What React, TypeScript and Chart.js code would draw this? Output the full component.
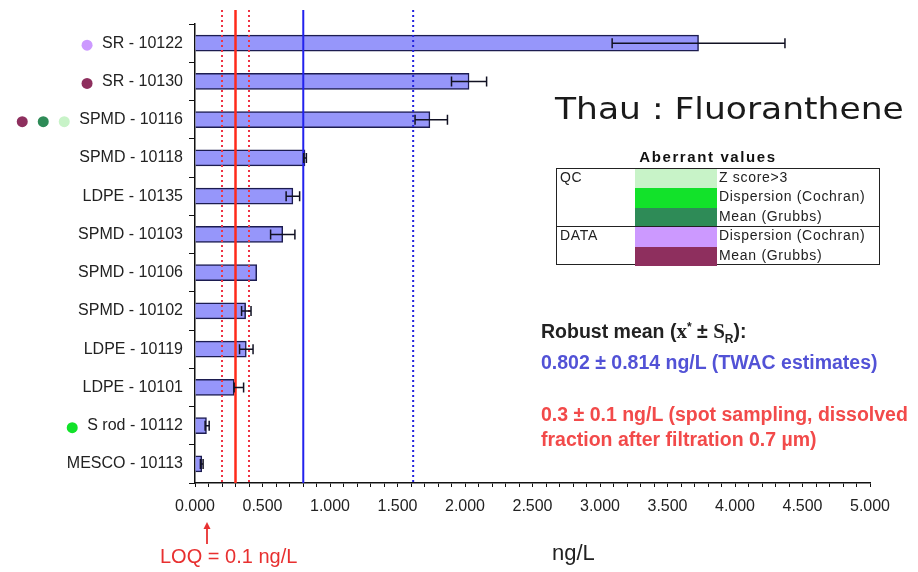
import React, { useEffect, useRef } from "react";
import { Chart, registerables } from "chart.js";

Chart.register(...registerables);

const categories = [
  "SR - 10122",
  "SR - 10130",
  "SPMD - 10116",
  "SPMD - 10118",
  "LDPE - 10135",
  "SPMD - 10103",
  "SPMD - 10106",
  "SPMD - 10102",
  "LDPE - 10119",
  "LDPE - 10101",
  "S rod - 10112",
  "MESCO - 10113",
];
const values = [3.73, 2.03, 1.74, 0.815, 0.725, 0.65, 0.457, 0.375, 0.38, 0.29, 0.085, 0.05];
const errMinus = [0.64, 0.13, 0.11, 0.01, 0.05, 0.09, null, 0.03, 0.05, 0.0, 0.01, 0.01];
const errPlus = [0.64, 0.13, 0.13, 0.01, 0.05, 0.09, null, 0.04, 0.05, 0.07, 0.02, 0.01];
// aberrant-value flags per category (nearest the label first)
const flags: string[][] = [
  ["dataDisp"],
  ["dataMean"],
  ["qcZ", "qcMean", "dataMean"],
  [],
  [],
  [],
  [],
  [],
  [],
  [],
  ["qcDisp"],
  [],
];
const spotMean = 0.3;
const spotSd = 0.1;
const robustMean = 0.802;
const robustSd = 0.814;
const xTickLabels = ["0.000", "0.500", "1.000", "1.500", "2.000", "2.500", "3.000", "3.500", "4.000", "4.500", "5.000"];

const flagColors: Record<string, string> = {
  qcZ: "#c8f3c8",
  qcDisp: "#12e22a",
  qcMean: "#2e8b57",
  dataDisp: "#cc99ff",
  dataMean: "#8e2f5e",
};

const labelFont = "16px 'Liberation Sans', Arial, sans-serif";

const overlayPlugin = {
  id: "overlay",
  afterDatasetsDraw(chart: any) {
    const ctx = chart.ctx;
    const xs = chart.scales.x;
    const ys = chart.scales.y;
    const area = chart.chartArea;
    const vline = (v: number, color: string, width: number, dash: number[]) => {
      const x = xs.getPixelForValue(v);
      ctx.save();
      ctx.strokeStyle = color;
      ctx.lineWidth = width;
      ctx.setLineDash(dash);
      ctx.beginPath();
      ctx.moveTo(x, 10);
      ctx.lineTo(x, area.bottom);
      ctx.stroke();
      ctx.restore();
    };
    vline(spotMean - spotSd, "#ee3344", 2, [2, 3]);
    vline(spotMean + spotSd, "#ee3344", 2, [2, 3]);
    vline(spotMean, "#ff2a1a", 2.5, []);
    vline(robustMean, "#2222ee", 2, []);
    vline(robustMean + robustSd, "#2222dd", 2, [2, 3]);

    // error bars
    ctx.save();
    ctx.strokeStyle = "#111122";
    ctx.lineWidth = 1.5;
    values.forEach((v, i) => {
      const m = errMinus[i];
      const p = errPlus[i];
      if (m === null || p === null) return;
      const y = ys.getPixelForValue(i);
      const x1 = xs.getPixelForValue(v - m);
      const x2 = xs.getPixelForValue(v + p);
      ctx.beginPath();
      ctx.moveTo(x1, y);
      ctx.lineTo(x2, y);
      ctx.moveTo(x1, y - 5);
      ctx.lineTo(x1, y + 5);
      ctx.moveTo(x2, y - 5);
      ctx.lineTo(x2, y + 5);
      ctx.stroke();
    });
    ctx.restore();

    // flag dots left of labels
    ctx.save();
    ctx.font = labelFont;
    flags.forEach((f, i) => {
      if (!f.length) return;
      const y = ys.getPixelForValue(i) + 2;
      const w = ctx.measureText(categories[i]).width;
      const labelLeft = area.left - 12 - w;
      f.forEach((k, j) => {
        const cx = labelLeft - 15 - j * 21;
        ctx.fillStyle = flagColors[k];
        ctx.beginPath();
        ctx.arc(cx, y, 5.5, 0, Math.PI * 2);
        ctx.fill();
      });
    });
    ctx.restore();
  },
};

export default function App() {
  const ref = useRef<HTMLCanvasElement | null>(null);

  useEffect(() => {
    if (!ref.current) return;
    const chart = new Chart(ref.current, {
      type: "bar",
      data: {
        labels: categories,
        datasets: [
          {
            data: values,
            backgroundColor: "#9696fa",
            borderColor: "#1c1c50",
            borderWidth: 1.5,
            borderSkipped: "left",
            barThickness: 16,
          },
        ],
      },
      options: {
        indexAxis: "y",
        responsive: false,
        animation: false,
        devicePixelRatio: 1,
        layout: { padding: { left: 0, right: 48, top: 24, bottom: 0 } },
        plugins: {
          legend: { display: false },
          tooltip: { enabled: false },
        },
        scales: {
          x: {
            type: "linear",
            min: 0,
            max: 5,
            afterFit: (s: any) => {
              s.height = 89;
            },
            afterBuildTicks: (s: any) => {
              const t = [];
              for (let i = 0; i <= 50; i++) t.push({ value: i / 10 });
              s.ticks = t;
            },
            ticks: {
              autoSkip: false,
              maxRotation: 0,
              padding: 10,
              color: "#222",
              font: { family: "'Liberation Sans', Arial, sans-serif", size: 16 },
              callback: (v: any) => {
                const n = Math.round(Number(v) * 10);
                if (n % 5 !== 0) return "";
                return xTickLabels[n / 5];
              },
            },
            grid: {
              drawOnChartArea: false,
              drawTicks: true,
              tickLength: 4,
              color: "#111",
              lineWidth: 1,
            },
            border: { color: "#111", width: 1.5 },
          },
          y: {
            afterFit: (s: any) => {
              s.width = 195;
            },
            ticks: {
              padding: 6,
              color: "#222",
              font: { family: "'Liberation Sans', Arial, sans-serif", size: 16 },
            },
            grid: {
              offset: true,
              drawOnChartArea: false,
              drawTicks: true,
              tickLength: 6,
              color: "#111",
              lineWidth: 1,
            },
            border: { color: "#111", width: 1.5 },
          },
        },
      },
      plugins: [overlayPlugin],
    });
    return () => chart.destroy();
  }, []);

  const sans = "'Liberation Sans', Arial, sans-serif";
  const rowH = 19.4;
  const tableLabel: React.CSSProperties = {
    position: "absolute",
    left: 162,
    fontSize: 14,
    letterSpacing: "0.7px",
    lineHeight: `${rowH}px`,
    whiteSpace: "nowrap",
    color: "#222",
  };
  const sw = (top: number, color: string): React.CSSProperties => ({
    position: "absolute",
    left: 78,
    top,
    width: 82,
    height: rowH,
    background: color,
  });

  return (
    <div
      style={{
        position: "absolute",
        left: 0,
        top: 0,
        width: 918,
        height: 572,
        background: "#fff",
        fontFamily: sans,
        overflow: "hidden",
      }}
    >
      <canvas ref={ref} width={918} height={572} style={{ position: "absolute", left: 0, top: 0 }} />

      <div
        style={{
          position: "absolute",
          left: 555,
          top: 94,
          fontFamily: "'DejaVu Sans', Verdana, sans-serif",
          fontSize: 30,
          lineHeight: "30px",
          color: "#1a1a1a",
          whiteSpace: "nowrap",
          transform: "scaleX(1.15)",
          transformOrigin: "left top",
        }}
      >
        Thau : Fluoranthene
      </div>

      <div
        style={{
          position: "absolute",
          left: 556,
          width: 304,
          top: 148,
          textAlign: "center",
          fontWeight: "bold",
          fontSize: 15,
          letterSpacing: "1.6px",
          lineHeight: "18px",
          color: "#111",
          whiteSpace: "nowrap",
        }}
      >
        Aberrant values
      </div>

      <div
        style={{
          position: "absolute",
          left: 556,
          top: 168,
          width: 324,
          height: 97,
          border: "1.5px solid #222",
          boxSizing: "border-box",
        }}
      >
        <div style={sw(0, flagColors.qcZ)} />
        <div style={sw(rowH, flagColors.qcDisp)} />
        <div style={sw(rowH * 2, flagColors.qcMean)} />
        <div style={sw(rowH * 3, flagColors.dataDisp)} />
        <div style={sw(rowH * 4, flagColors.dataMean)} />
        <div
          style={{
            position: "absolute",
            left: 0,
            right: 0,
            top: rowH * 3 - 1,
            height: 0,
            borderTop: "1.5px solid #222",
          }}
        />
        <div style={{ ...tableLabel, left: 3, top: -1 }}>QC</div>
        <div style={{ ...tableLabel, left: 3, top: rowH * 3 - 1 }}>DATA</div>
        <div style={{ ...tableLabel, top: -1 }}>Z score&gt;3</div>
        <div style={{ ...tableLabel, top: rowH - 1 }}>Dispersion (Cochran)</div>
        <div style={{ ...tableLabel, top: rowH * 2 - 1 }}>Mean (Grubbs)</div>
        <div style={{ ...tableLabel, top: rowH * 3 - 1 }}>Dispersion (Cochran)</div>
        <div style={{ ...tableLabel, top: rowH * 4 - 1 }}>Mean (Grubbs)</div>
      </div>

      <div
        style={{
          position: "absolute",
          left: 541,
          top: 319,
          fontSize: 19.5,
          fontWeight: "bold",
          lineHeight: "24px",
          color: "#222",
          whiteSpace: "nowrap",
        }}
      >
        Robust mean (
        <span style={{ fontFamily: "'Liberation Serif', serif", fontSize: 21 }}>x</span>
        <sup style={{ fontSize: 12, lineHeight: 0 }}>*</sup> ±{" "}
        <span style={{ fontFamily: "'Liberation Serif', serif", fontSize: 21 }}>S</span>
        <sub style={{ fontSize: 12, lineHeight: 0 }}>R</sub>):
      </div>
      <div
        style={{
          position: "absolute",
          left: 541,
          top: 350,
          fontSize: 19.5,
          fontWeight: "bold",
          lineHeight: "24px",
          color: "#5252d6",
          whiteSpace: "nowrap",
        }}
      >
        0.802 ± 0.814 ng/L (TWAC estimates)
      </div>
      <div
        style={{
          position: "absolute",
          left: 541,
          top: 402,
          fontSize: 19.5,
          fontWeight: "bold",
          lineHeight: "25px",
          color: "#f24a4a",
          whiteSpace: "nowrap",
        }}
      >
        0.3 ± 0.1 ng/L (spot sampling, dissolved
        <br />
        fraction after filtration 0.7 µm)
      </div>

      <svg width={20} height={30} style={{ position: "absolute", left: 197, top: 520 }}>
        <line x1={10} y1={24} x2={10} y2={6} stroke="#e83030" strokeWidth={1.8} />
        <polygon points="10,2 6.5,9 13.5,9" fill="#e83030" />
      </svg>
      <div
        style={{
          position: "absolute",
          left: 160,
          top: 544,
          fontSize: 20,
          lineHeight: "24px",
          color: "#e83030",
          whiteSpace: "nowrap",
        }}
      >
        LOQ = 0.1 ng/L
      </div>
      <div
        style={{
          position: "absolute",
          left: 552,
          top: 540,
          fontSize: 22,
          lineHeight: "26px",
          color: "#222",
          whiteSpace: "nowrap",
        }}
      >
        ng/L
      </div>
    </div>
  );
}
